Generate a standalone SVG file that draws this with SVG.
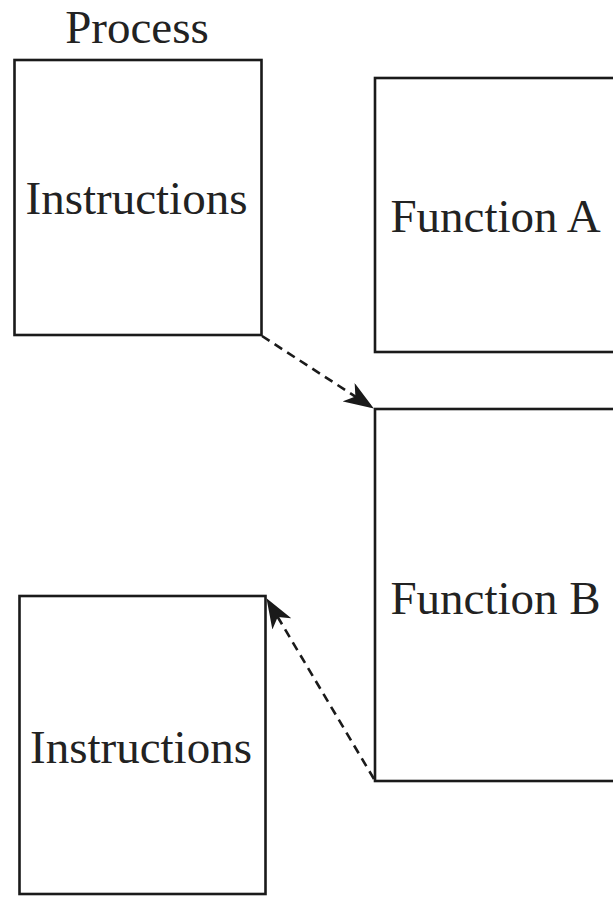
<svg xmlns="http://www.w3.org/2000/svg" width="613" height="897" viewBox="0 0 613 897">
<style>
.box{fill:none;stroke:#1a1a1a;stroke-width:2.6}
.lbl{font-family:"Liberation Serif","Times New Roman",serif;font-size:47px;fill:#222;text-anchor:middle}
.con{fill:none;stroke:#1a1a1a;stroke-width:2.6;stroke-dasharray:9 6}
</style>
<defs>
<marker id="ah" viewBox="0 0 30 22" refX="29" refY="11" markerWidth="30" markerHeight="22" markerUnits="userSpaceOnUse" orient="auto">
<path d="M0,0 L30,11 L0,22 L8,11 Z" fill="#1a1a1a"/>
</marker>
</defs>
<rect width="613" height="897" fill="#fff"/>
<text class="lbl" x="137" y="43">Process</text>
<g id="proc1">
<rect class="box" x="14.5" y="60" width="247" height="275"/>
<text class="lbl" x="136.5" y="214">Instructions</text>
</g>
<g id="funcA">
<rect class="box" x="375" y="78" width="260" height="274"/>
<text class="lbl" x="495.5" y="232">Function A</text>
</g>
<g id="funcB">
<rect class="box" x="375" y="409" width="260" height="372"/>
<text class="lbl" x="495.5" y="614">Function B</text>
</g>
<g id="proc2">
<rect class="box" x="19.5" y="596" width="246" height="298"/>
<text class="lbl" x="141" y="763">Instructions</text>
</g>
<g id="connectors">
<line class="con" x1="262" y1="336" x2="373" y2="408" marker-end="url(#ah)"/>
<line class="con" x1="374" y1="779" x2="267" y2="599" marker-end="url(#ah)"/>
</g>
</svg>
